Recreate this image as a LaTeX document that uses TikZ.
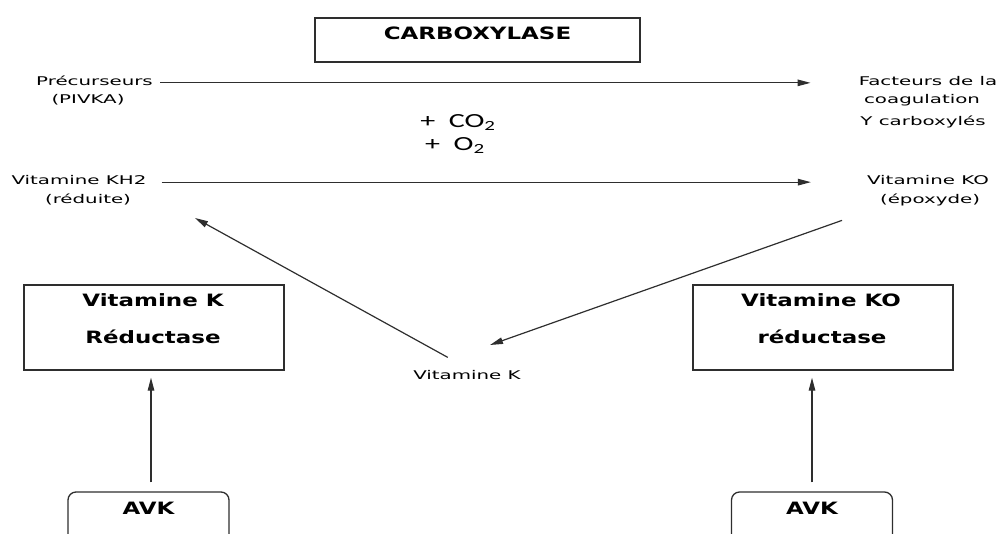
\documentclass[tikz,border=0pt]{standalone}
\usepackage{fontspec}
\usepackage{xcolor}
\usepackage{tikz}
\usetikzlibrary{arrows.meta}
\newfontfamily\labelfont[FakeStretch=1.65]{DejaVu Sans}
\newfontfamily\boxfont[FakeStretch=1.35]{DejaVu Sans}
\newfontfamily\gasfont[FakeStretch=1.5]{Carlito}
\definecolor{linegray}{HTML}{2E2E2E}

\begin{document}
\begin{tikzpicture}[x=1pt, y=-1pt,
  lbl/.style={font=\labelfont\fontsize{12}{14}\selectfont, anchor=base, inner sep=2pt},
  gas/.style={font=\gasfont\fontsize{20}{24}\selectfont, anchor=base},
  bold/.style={font=\boxfont\bfseries\fontsize{17}{20}\selectfont},
  enzbox/.style={draw=linegray, line width=1.3pt, minimum width=260pt, minimum height=85pt},
  avkbox/.style={bold, draw=linegray, line width=1.3pt, rounded corners=8pt, inner sep=0pt,
                 minimum width=161pt, minimum height=60pt, text height=13pt, text depth=29pt},
  flow/.style={draw=linegray, line width=1.2pt, -{Triangle[length=13pt, width=6.5pt]}}]
  \path[use as bounding box, clip] (0,0) rectangle (998,533);

  % carboxylase
  \node[bold, draw=linegray, line width=1.3pt, inner sep=0pt, minimum width=325pt,
        minimum height=44pt, text height=13pt, text depth=14.4pt] (carbox) at (477.5,40) {CARBOXYLASE};

  \node[lbl, anchor=base east] (prec) at (155,85) {Précurseurs};
  \node[lbl] (pivka) at (88,103) {(PIVKA)};
  \node[lbl] (fact) at (928,85) {Facteurs de la};
  \node[lbl] (coag) at (922,103) {coagulation};
  \node[lbl] (gcarb) at (923,125) {Y carboxylés};

  \node[gas] (co2) at (458,127) {+\ \ CO\textsubscript{2}};
  \node[gas] (o2) at (455,150) {+\ \ O\textsubscript{2}};

  \node[lbl] (kh2) at (79,184.3) {Vitamine KH2};
  \node[lbl] (reduite) at (88,203) {(réduite)};
  \node[lbl] (ko) at (928,184) {Vitamine KO};
  \node[lbl] (epox) at (930,203) {(époxyde)};
  \node[lbl] (vitk) at (467,379.3) {Vitamine K};

  \draw[flow, shorten <=5pt, shorten >=46pt] (prec.mid east) -- (prec.mid east -| fact.west);
  \draw[flow, shorten <=13pt, shorten >=54pt] (kh2.mid east) -- (kh2.mid east -| ko.west);

  % cycle
  \coordinate (ktip) at (195,218);
  \coordinate (kotip) at (490,345);
  \draw[flow, shorten <=22pt] (vitk.north) -- (ktip);
  \draw[flow, shorten <=38pt] (epox.south west) -- (kotip);

  % reductases
  \node[enzbox] (vkred) at (154,327.5) {};
  \node[bold, anchor=base] (vkredA) at (153,306.7) {Vitamine K};
  \node[bold, anchor=base] (vkredB) at (153,343.3) {Réductase};
  \node[enzbox] (kored) at (823,327.5) {};
  \node[bold, anchor=base] (koredA) at (821,306.4) {Vitamine KO};
  \node[bold, anchor=base] (koredB) at (822,343.3) {réductase};

  % AVK
  \node[avkbox] (avkL) at (148.5,522) {AVK};
  \node[avkbox] (avkR) at (812,522) {AVK};
  \draw[flow, shorten <=9pt, shorten >=7pt] ([xshift=2.5pt]avkL.north) -- ([xshift=2.5pt]avkL.north |- vkred.south);
  \draw[flow, shorten <=9pt, shorten >=7pt] (avkR.north) -- (avkR.north |- kored.south);
\end{tikzpicture}
\end{document}
